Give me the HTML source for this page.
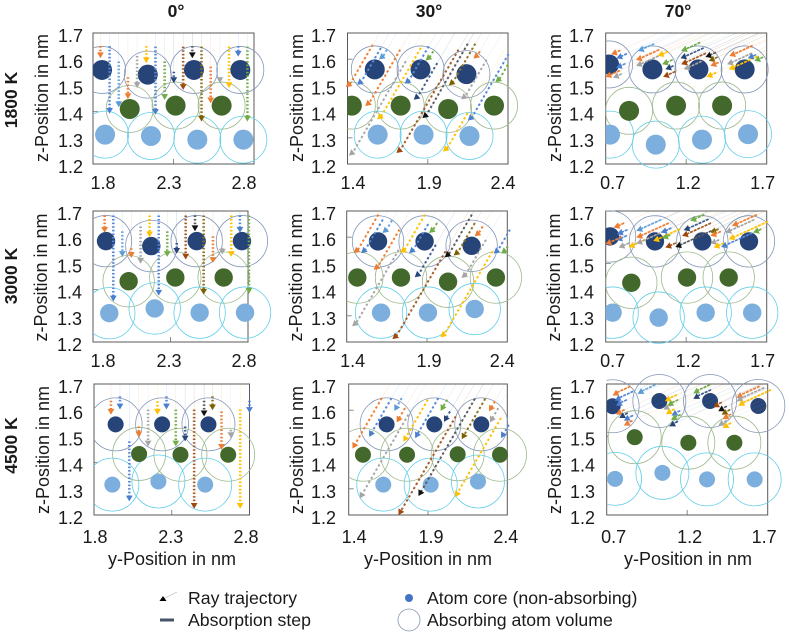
<!DOCTYPE html>
<html lang="en">
<head>
<meta charset="utf-8">
<title>Ray trajectories through an atom lattice</title>
<style>
html,body{margin:0;padding:0;background:#fff;}
svg{display:block;}
text{font-family:"Liberation Sans",sans-serif;fill:#1a1a1a;}
</style>
</head>
<body>
<svg id="chart" xmlns="http://www.w3.org/2000/svg" width="789" height="635" viewBox="0 0 789 635">
  <g id="panels"></g>
  <g id="legend">
    <line x1="163" y1="599" x2="177" y2="592" stroke="#c9c9c9" stroke-width="0.8"/>
    <polygon points="163,596 166.5,601 159.5,601" fill="#000"/>
    <text x="188" y="598" font-size="17.7" dominant-baseline="central">Ray trajectory</text>
    <line x1="160" y1="620" x2="174" y2="620" stroke="#44546a" stroke-width="3"/>
    <text x="188" y="620" font-size="17.7" dominant-baseline="central">Absorption step</text>
    <circle cx="409" cy="598" r="4" fill="#4472c4"/>
    <text x="427" y="598" font-size="17.7" dominant-baseline="central">Atom core (non-absorbing)</text>
    <circle cx="409" cy="620" r="11" fill="#fff" stroke="#8497b0" stroke-width="0.8"/>
    <text x="427" y="620" font-size="17.7" dominant-baseline="central">Absorbing atom volume</text>
  </g>
</svg>
<script>
/* Atoms: [kind, y-position nm, z-position nm]  d=top layer, g=middle layer, l=bottom layer */
const atoms1800at0 = [['d',1.856,1.559],['d',2.140,1.541],['d',2.427,1.559],['d',2.715,1.559],['g',2.028,1.410],['g',2.313,1.423],['g',2.599,1.423],['l',1.875,1.312],['l',2.160,1.307],['l',2.448,1.293],['l',2.734,1.293]];
const atoms1800at30 = [['d',1.570,1.561],['d',1.855,1.561],['d',2.141,1.543],['g',1.427,1.423],['g',1.731,1.423],['g',2.027,1.410],['g',2.313,1.423],['l',1.588,1.312],['l',1.874,1.312],['l',2.160,1.307]];
const atoms1800at70 = [['d',0.721,1.580],['d',0.990,1.561],['d',1.276,1.561],['d',1.563,1.561],['g',0.845,1.403],['g',1.137,1.423],['g',1.423,1.423],['l',0.727,1.312],['l',1.011,1.274],['l',1.298,1.293],['l',1.584,1.314]];
const atoms3000at0 = [['d',1.884,1.585],['d',2.176,1.566],['d',2.469,1.585],['d',2.761,1.585],['g',2.030,1.432],['g',2.331,1.446],['g',2.643,1.446],['l',1.905,1.310],['l',2.198,1.328],['l',2.488,1.312],['l',2.781,1.312]];
const atoms3000at30 = [['d',1.595,1.584],['d',1.885,1.584],['d',2.178,1.567],['g',1.466,1.446],['g',1.738,1.446],['g',2.031,1.430],['g',2.329,1.446],['l',1.614,1.312],['l',1.906,1.312],['l',2.197,1.326]];
const atoms3000at70 = [['d',0.727,1.603],['d',1.006,1.584],['d',1.300,1.584],['d',1.590,1.584],['g',0.859,1.426],['g',1.205,1.446],['g',1.464,1.446],['l',0.743,1.312],['l',1.029,1.293],['l',1.321,1.312],['l',1.610,1.312]];
const atoms4500at0 = [['d',1.939,1.546],['d',2.238,1.546],['d',2.536,1.546],['g',2.090,1.433],['g',2.356,1.430],['g',2.663,1.430],['l',1.918,1.316],['l',2.214,1.328],['l',2.515,1.316]];
const atoms4500at30 = [['d',1.639,1.546],['d',1.940,1.546],['d',2.236,1.546],['g',1.490,1.430],['g',1.768,1.430],['g',2.087,1.432],['g',2.354,1.430],['l',1.618,1.316],['l',1.917,1.316],['l',2.215,1.328]];
const atoms4500at70 = [['d',0.737,1.615],['d',1.027,1.635],['d',1.342,1.635],['d',1.642,1.616],['g',0.874,1.497],['g',1.207,1.476],['g',1.493,1.476],['l',0.752,1.338],['l',1.046,1.361],['l',1.323,1.336],['l',1.619,1.336]];

/* Rays: [colour key, final y nm, final z nm, z nm where absorption steps begin] */
const rays1800at0 = [['o',1.846,1.616,1.650],['b',1.903,1.404,1.650],['c',1.960,1.429,1.591],['o',2.017,1.460,1.531],['s',2.074,1.502,1.612],['y',2.131,1.597,1.650],['b',2.188,1.400,1.648],['e',2.245,1.457,1.591],['n',2.302,1.521,1.552],['r',2.360,1.495,1.648],['k',2.417,1.616,1.650],['d',2.474,1.374,1.648],['o',2.531,1.444,1.571],['s',2.588,1.521,1.527],['y',2.645,1.502,1.648],['b',2.702,1.622,1.650],['e',2.759,1.374,1.648]];
const rays1800at30 = [['o',1.412,1.502,1.655],['b',1.483,1.511,1.643],['c',1.619,1.608,1.636],['o',1.533,1.430,1.636],['s',1.431,1.241,1.592],['y',1.607,1.379,1.643],['b',1.779,1.515,1.649],['e',1.909,1.604,1.630],['n',1.835,1.454,1.585],['r',1.727,1.251,1.636],['k',1.889,1.384,1.659],['d',2.054,1.509,1.659],['o',2.207,1.611,1.630],['s',2.131,1.455,1.598],['y',2.017,1.256,1.394],['b',2.172,1.375,1.620],['e',2.344,1.521,1.579]];
const rays1800at70 = [['o',0.752,1.623,1.634],['b',0.785,1.608,1.621],['b',0.783,1.572,1.583],['o',0.717,1.537,1.557],['s',0.764,1.534,1.544],['c',0.919,1.636,1.659],['o',0.907,1.601,1.636],['s',0.907,1.579,1.613],['y',1.042,1.617,1.630],['e',1.069,1.585,1.598],['n',1.089,1.566,1.575],['r',1.075,1.537,1.553],['e',1.187,1.636,1.664],['n',1.183,1.608,1.643],['r',1.187,1.585,1.623],['s',1.203,1.566,1.592],['k',1.338,1.613,1.626],['d',1.359,1.598,1.608],['o',1.369,1.579,1.588],['y',1.344,1.537,1.549],['o',1.487,1.617,1.652],['s',1.472,1.585,1.623],['y',1.483,1.566,1.611],['b',1.601,1.608,1.617],['e',1.642,1.598,1.608]];
const rays3000at0 = [['o',1.875,1.629,1.683],['b',1.931,1.367,1.683],['c',1.989,1.537,1.622],['o',2.047,1.533,1.558],['s',2.107,1.511,1.641],['y',2.165,1.612,1.683],['b',2.224,1.389,1.683],['e',2.279,1.537,1.622],['n',2.340,1.549,1.578],['r',2.398,1.527,1.683],['k',2.458,1.635,1.683],['d',2.514,1.393,1.683],['o',2.574,1.514,1.603],['s',2.634,1.546,1.558],['y',2.692,1.537,1.683],['b',2.748,1.629,1.683],['e',2.806,1.396,1.683]];
const rays3000at30 = [['o',1.466,1.548,1.686],['b',1.512,1.548,1.667],['c',1.645,1.625,1.664],['o',1.591,1.484,1.629],['s',1.456,1.269,1.552],['y',1.757,1.549,1.686],['b',1.811,1.548,1.650],['e',1.935,1.625,1.654],['n',1.846,1.456,1.571],['r',1.707,1.220,1.546],['k',2.033,1.532,1.686],['d',2.089,1.539,1.654],['o',2.219,1.612,1.641],['s',2.137,1.453,1.590],['y',2.006,1.227,1.546],['b',2.338,1.546,1.629],['e',2.385,1.546,1.565]];
const rays3000at70 = [['o',0.768,1.641,1.654],['b',0.789,1.616,1.629],['b',0.785,1.593,1.606],['o',0.717,1.578,1.601],['s',0.799,1.565,1.578],['y',0.861,1.567,1.590],['c',0.909,1.629,1.667],['o',0.909,1.603,1.654],['s',0.909,1.580,1.635],['y',1.014,1.590,1.631],['b',1.062,1.622,1.635],['e',1.069,1.600,1.609],['r',1.089,1.565,1.578],['k',1.151,1.567,1.631],['e',1.244,1.667,1.686],['n',1.203,1.631,1.669],['r',1.193,1.609,1.654],['d',1.369,1.622,1.631],['s',1.369,1.580,1.590],['o',1.369,1.609,1.622],['y',1.389,1.565,1.578],['b',1.435,1.567,1.616],['o',1.503,1.648,1.686],['s',1.462,1.622,1.667],['y',1.483,1.597,1.660],['e',1.634,1.622,1.631]];
const rays4500at0 = [['o',1.909,1.595,1.636],['b',1.967,1.615,1.653],['b',2.027,1.264,1.481],['o',2.088,1.509,1.538],['s',2.148,1.474,1.602],['y',2.208,1.595,1.634],['b',2.266,1.615,1.653],['e',2.326,1.474,1.602],['n',2.386,1.493,1.538],['r',2.444,1.236,1.602],['k',2.508,1.589,1.636],['d',2.562,1.612,1.653],['o',2.620,1.461,1.595],['s',2.680,1.506,1.525],['y',2.740,1.236,1.602],['b',2.800,1.602,1.636]];
const rays4500at30 = [['o',1.434,1.464,1.646],['b',1.539,1.509,1.646],['c',1.698,1.608,1.646],['o',1.713,1.564,1.608],['s',1.480,1.274,1.583],['y',1.755,1.490,1.640],['b',1.829,1.504,1.646],['e',1.990,1.608,1.640],['n',2.011,1.566,1.595],['r',1.724,1.210,1.576],['k',1.850,1.283,1.644],['d',2.123,1.500,1.644],['o',2.295,1.606,1.634],['s',2.301,1.564,1.608],['y',2.081,1.279,1.570],['b',2.371,1.504,1.544]];
const rays4500at70 = [['o',0.779,1.593,1.602],['n',0.799,1.580,1.589],['b',0.828,1.570,1.580],['o',0.828,1.551,1.560],['o',0.758,1.666,1.691],['b',0.772,1.646,1.672],['b',0.779,1.627,1.640],['c',0.913,1.672,1.697],['s',1.073,1.612,1.621],['y',1.089,1.595,1.604],['b',1.124,1.589,1.598],['e',1.120,1.572,1.583],['n',1.110,1.548,1.557],['y',1.083,1.644,1.659],['e',1.098,1.627,1.640],['e',1.259,1.674,1.697],['n',1.259,1.653,1.678],['r',1.383,1.621,1.630],['k',1.414,1.606,1.615],['d',1.435,1.593,1.602],['o',1.441,1.576,1.585],['s',1.414,1.551,1.560],['y',1.441,1.542,1.551],['o',1.528,1.657,1.691],['s',1.528,1.644,1.686],['y',1.539,1.627,1.678]];

/* Tick labels */
const zTickLabels = ['1.2','1.3','1.4','1.5','1.6','1.7'];
const xTickLabels0 = ['1.8','2.3','2.8'];
const xTickLabels30 = ['1.4','1.9','2.4'];
const xTickLabels70 = ['0.7','1.2','1.7'];
const columnTitles = ['0°','30°','70°'];
const rowTitles = ['1800 K','3000 K','4500 K'];

/* Layout only (pixels): frame, nudges, ray slope, marker rotation */
const frames = [
 {id:'1800k-0',   atoms:atoms1800at0,  rays:rays1800at0,  ticks:xTickLabels0,  l:93,    r:254,   t:33,  b:164, nudge:[10,-4.5,-10], lx:83,  ly:183, tx:42,  ty:98,  slope:0,   rot:0,   rv:23.5, rc:10},
 {id:'1800k-30',  atoms:atoms1800at30, rays:rays1800at30, ticks:xTickLabels30, l:347.5, r:508,   t:33,  b:164, nudge:[5.5,1.5,-5],  lx:336, ly:183, tx:297, ty:98,  slope:0.58,rot:-70, rv:23.5, rc:10},
 {id:'1800k-70',  atoms:atoms1800at70, rays:rays1800at70, ticks:xTickLabels70, l:605.7, r:766.7, t:33,  b:164, nudge:[7,2,-4],      lx:594, ly:183, tx:555, ty:98,  slope:2.2, rot:70,  rv:23.5, rc:10},
 {id:'3000k-0',   atoms:atoms3000at0,  rays:rays3000at0,  ticks:xTickLabels0,  l:93,    r:248,   t:211, b:342, nudge:[10,-1.5,-4],  lx:82,  ly:361, tx:41,  ty:277.5,slope:0,  rot:0,   rv:25.7, rc:9.2},
 {id:'3000k-30',  atoms:atoms3000at30, rays:rays3000at30, ticks:xTickLabels30, l:346.7, r:507.3, t:211, b:342, nudge:[6,2,-5],      lx:336, ly:361, tx:296, ty:277.5,slope:0.58,rot:-70,rv:25.7, rc:9.2},
 {id:'3000k-70',  atoms:atoms3000at70, rays:rays3000at70, ticks:xTickLabels70, l:605.7, r:766.7, t:211, b:342, nudge:[7,2,-4],      lx:594, ly:361, tx:554, ty:277.5,slope:2.2,rot:70,  rv:25.7, rc:9.2},
 {id:'4500k-0',   atoms:atoms4500at0,  rays:rays4500at0,  ticks:xTickLabels0,  l:94,    r:249.5, t:384, b:515, nudge:[1,-1,-3.5],   lx:83,  ly:537, tx:43,  ty:450, slope:0,   rot:0,   rv:26.5, rc:8},
 {id:'4500k-30',  atoms:atoms4500at30, rays:rays4500at30, ticks:xTickLabels30, l:348.7, r:507.3, t:384, b:515, nudge:[5.5,3,-1.5],  lx:336, ly:537, tx:297, ty:450, slope:0.58,rot:30,  rv:26.5, rc:8},
 {id:'4500k-70',  atoms:atoms4500at70, rays:rays4500at70, ticks:xTickLabels70, l:606.7, r:767.7, t:384, b:515, nudge:[7,2.5,-3.5],  lx:595, ly:537, tx:555, ty:450, slope:2.2, rot:180, rv:26.5, rc:8}
];

const rayColours = {o:'#ed7d31',b:'#4a7fd0',c:'#5b9bd5',s:'#a5a5a5',y:'#ffc000',n:'#264478',e:'#70ad47',r:'#9e480e',k:'#111111',d:'#7f6000'};
const stepColours = {o:'#ed7d31',b:'#5587d6',c:'#6aa5dc',s:'#a5a5a5',y:'#ffc000',n:'#3c5a8e',e:'#70ad47',r:'#a65a26',k:'#5a5a5a',d:'#8a7020'};
const coreColours = {d:'#264478',g:'#43682b',l:'#7cafdd'};
const volumeColours = {d:'#8497b9',g:'#9db88c',l:'#62cde8'};

const NS = 'http://www.w3.org/2000/svg';
function mk(tag, props, parent){
  const el = document.createElementNS(NS, tag);
  for (const k in props) el.setAttribute(k, props[k]);
  parent.appendChild(el);
  return el;
}

const root = document.getElementById('panels');
const defs = mk('defs', {}, root);

function drawPanel(f, idx){
  const col = idx % 3;
  const row = Math.floor(idx / 3);
  const xMin = parseFloat(f.ticks[0]);
  const xScale = v => f.l + (v - xMin) * (f.r - f.l);
  const zScale = v => f.b - (v - 1.2) / 0.5 * (f.b - f.t);

  const g = mk('g', {}, root);
  
  

  const clipPlot = mk('clipPath', {id:'plot-' + idx}, defs);
  mk('rect', {x:f.l, y:f.t, width:f.r - f.l, height:f.b - f.t}, clipPlot);
  const clipLeft = mk('clipPath', {id:'left-' + idx}, defs);
  mk('rect', {x:f.l, y:f.t - 40, width:f.r - f.l + 60, height:f.b - f.t + 80}, clipLeft);

  /* inner ticks */
  zTickLabels.forEach(lbl => {
    const yy = zScale(parseFloat(lbl));
    const tick = mk('line', {x1:f.l, x2:f.l + 5, y1:yy, y2:yy, stroke:'#8c8c8c', 'stroke-width':1}, g);
    
    
    const tl = mk('text', {x:f.lx, y:yy + 3, 'font-size':18, 'text-anchor':'end', 'dominant-baseline':'central'}, g);
    
    
    tl.textContent = lbl;
  });
  const midTick = mk('line', {x1:(f.l + f.r) / 2, x2:(f.l + f.r) / 2, y1:f.b, y2:f.b - 5, stroke:'#8c8c8c', 'stroke-width':1}, g);
  
  

  f.ticks.forEach((lbl, i) => {
    const tl = mk('text', {x:xScale(parseFloat(lbl)) + f.nudge[i], y:f.ly, 'font-size':18, 'text-anchor':'middle', 'dominant-baseline':'central'}, g);
    
    
    tl.textContent = lbl;
  });

  /* white underlay of atom volumes */
  const under = mk('g', {'clip-path':'url(#left-' + idx + ')'}, g);
  
  
  f.atoms.forEach(a => {
    const u = mk('circle', {cx:xScale(a[1]), cy:zScale(a[2]), r:f.rv, fill:'#fff'}, under);
    
    
  });

  const border = mk('rect', {x:f.l, y:f.t, width:f.r - f.l, height:f.b - f.t, fill:'none', stroke:'#595959', 'stroke-width':1}, g);
  
  

  /* atom volumes */
  const vols = mk('g', {'clip-path':'url(#left-' + idx + ')'}, g);
  
  
  f.atoms.forEach(a => {
    const v = mk('circle', {cx:xScale(a[1]), cy:zScale(a[2]), r:f.rv, fill:'none', stroke:volumeColours[a[0]], 'stroke-width':0.8}, vols);
    
    
  });

  /* atom cores */
  const cores = mk('g', {'clip-path':'url(#left-' + idx + ')'}, g);
  
  
  f.atoms.forEach(a => {
    const c = mk('circle', {cx:xScale(a[1]), cy:zScale(a[2]), r:f.rc, fill:coreColours[a[0]]}, cores);
    
    
  });

  /* rays */
  const pale = mk('g', {'clip-path':'url(#plot-' + idx + ')'}, g);
  
  
  const steps = mk('g', {}, g);
  
  
  f.rays.forEach(r => {
    const colour = rayColours[r[0]];
    const ex = xScale(r[1]);
    const ey = zScale(r[2]);
    const sy = zScale(r[3]);
    const sx = ex + f.slope * (ey - sy);
    const tx = ex + f.slope * (ey - f.t);
    const line = mk('line', {x1:ex, y1:ey, x2:tx, y2:f.t, stroke:colour, 'stroke-width':0.5, 'stroke-opacity':0.22}, pale);
    
    
    const dashSpec = col === 0 ? '1.5 2.1' : (col === 1 ? '2.2 2.6' : '3 1');
    const dash = mk('line', {x1:sx, y1:sy, x2:ex, y2:ey, stroke:stepColours[r[0]], 'stroke-width':col === 2 ? 1.7 : (col === 0 ? 2.6 : 2), 'stroke-dasharray':dashSpec}, steps);
    
    
    const m = mk('polygon', {points:'-3.4,-2.6 3.4,-2.6 0,3.2', fill:colour, transform:'translate(' + ex + ' ' + ey + ') rotate(' + f.rot + ')'}, steps);
    
    
  });

  /* axis titles */
  const zt = mk('text', {x:0, y:0, 'font-size':18, 'text-anchor':'middle', 'dominant-baseline':'central', transform:'translate(' + f.tx + ' ' + f.ty + ') rotate(-90)'}, g);
  
  
  zt.textContent = 'z-Position in nm';

  if (row === 2) {
    const yt = mk('text', {x:[172,428,688][col], y:559, 'font-size':18, 'text-anchor':'middle', 'dominant-baseline':'central'}, g);
    
    
    yt.textContent = 'y-Position in nm';
  }
}
frames.forEach(drawPanel);

columnTitles.forEach((t, i) => {
  const el = mk('text', {x:[176,429,678][i], y:11, 'font-size':17.5, 'font-weight':'bold', 'text-anchor':'middle', 'dominant-baseline':'central'}, root);
  
  
  el.textContent = t;
});
rowTitles.forEach((t, i) => {
  const el = mk('text', {x:0, y:0, 'font-size':17.5, 'font-weight':'bold', 'text-anchor':'middle', 'dominant-baseline':'central', transform:'translate(11 ' + [100,276,445.5][i] + ') rotate(-90)'}, root);
  
  
  el.textContent = t;
});
</script>
</body>
</html>
